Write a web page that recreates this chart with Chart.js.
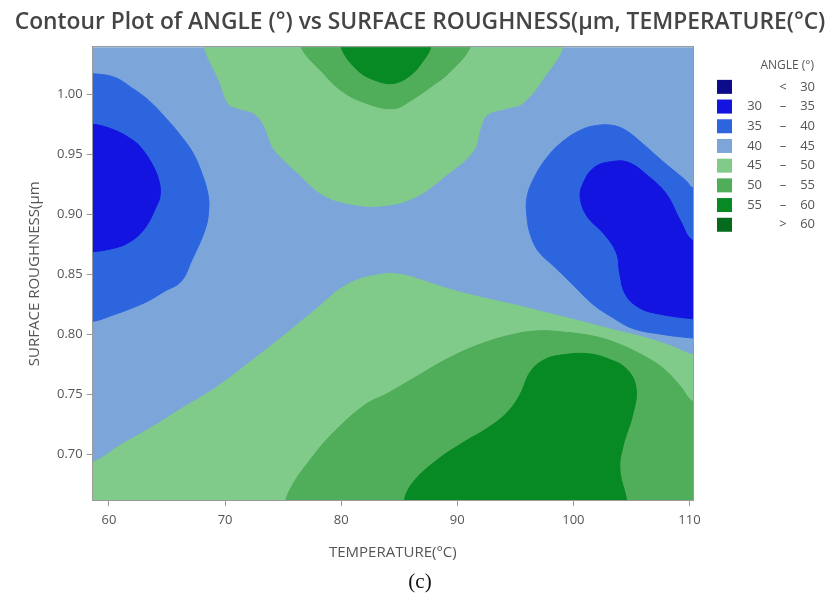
<!DOCTYPE html>
<html>
<head>
<meta charset="utf-8">
<title>Contour Plot of ANGLE vs SURFACE ROUGHNESS, TEMPERATURE</title>
<script src="https://cdn.jsdelivr.net/npm/chart.js@4.4.0/dist/chart.umd.min.js"></script>
<style>
  html, body { margin: 0; padding: 0; background: #fff; }
  #wrap { width: 828px; height: 596px; }
</style>
</head>
<body>
<div id="wrap"><canvas id="chart"></canvas></div>
<script>
// axes
const tempTicks = [60, 70, 80, 90, 100, 110];
const roughTicks = [0.70, 0.75, 0.80, 0.85, 0.90, 0.95, 1.00];
const tempRange = [58.6, 110.3];
const roughRange = [0.662, 1.039];

// contour levels of ANGLE (deg)
const levelLow = ["", "30", "35", "40", "45", "50", "55", ""];
const levelSign = ["<", "–", "–", "–", "–", "–", "–", ">"];
const levelHigh = ["30", "35", "40", "45", "50", "55", "60", "60"];
const levelColors = ["#0c0c8a", "#1414e0", "#2d65df", "#7ca5d9", "#80cb8a", "#50ad5a", "#078924", "#056a1b"];

// contour bands, [temperature, roughness]
const band40to45 = [[55, 0.62], [114, 0.62], [114, 1.07], [55, 1.07]];
const band45top = [[68.1, 1.06], [68.23, 1.039], [69.5, 1.011], [70.3, 0.992], [71.2, 0.988], [72.5, 0.984],
  [73.3, 0.975], [73.8, 0.963], [74.3, 0.953], [76.3, 0.934], [78.3, 0.917], [80.6, 0.909], [83.4, 0.907],
  [86.3, 0.914], [89.1, 0.933], [91.4, 0.953], [92.0, 0.972], [92.6, 0.983], [94.2, 0.988], [95.7, 0.993],
  [97.7, 1.017], [99.1, 1.039], [99.3, 1.06]];
const band50top = [[76.2, 1.06], [76.55, 1.039], [78.4, 1.018], [80.0, 1.003], [82.0, 0.993], [84.5, 0.988],
  [86.2, 0.996], [88.0, 1.008], [89.2, 1.017], [91.1, 1.039], [91.3, 1.06]];
const band55top = [[79.8, 1.06], [80.0, 1.039], [81.3, 1.021], [82.8, 1.012], [84.5, 1.009], [86.0, 1.016],
  [87.0, 1.027], [87.7, 1.039], [87.9, 1.06]];
const band45bottom = [[57, 0.692], [58.7, 0.694], [61.0, 0.708], [63.4, 0.721], [66.2, 0.738], [69.1, 0.755],
  [72.0, 0.776], [74.8, 0.797], [77.7, 0.820], [80.6, 0.842], [83.4, 0.850], [85.1, 0.850], [87.0, 0.845],
  [89.2, 0.838], [92.0, 0.831], [94.8, 0.825], [97.7, 0.818], [100.6, 0.811], [103.4, 0.804], [106.3, 0.797],
  [108.5, 0.790], [110.3, 0.783], [112, 0.781], [112, 0.64], [57, 0.64]];
const band50bottom = [[75.0, 0.64], [75.2, 0.661], [75.95, 0.677], [77.2, 0.694], [79.1, 0.716], [82.0, 0.741],
  [84.0, 0.751], [86.5, 0.765], [89.2, 0.780], [92.0, 0.792], [94.8, 0.800], [97.0, 0.803], [99.1, 0.802],
  [101.5, 0.799], [103.4, 0.794], [105.7, 0.784], [107.7, 0.772], [109.2, 0.757], [110.3, 0.744], [112, 0.74],
  [112, 0.64]];
const band55bottom = [[85.2, 0.64], [85.4, 0.661], [86.2, 0.677], [88.2, 0.695], [90.5, 0.710], [92.6, 0.722],
  [94.3, 0.735], [95.4, 0.750], [96.3, 0.769], [97.5, 0.779], [99.1, 0.783], [101.2, 0.784], [102.9, 0.780],
  [104.6, 0.771], [105.4, 0.755], [105.1, 0.733], [104.3, 0.708], [104.0, 0.688], [104.6, 0.661], [104.8, 0.64]];
const band35left = [[57, 1.018], [58.7, 1.017], [60.5, 1.014], [62.0, 1.005], [63.4, 0.995], [65.0, 0.979],
  [66.3, 0.964], [67.3, 0.950], [68.0, 0.934], [68.5, 0.918], [68.6, 0.905], [68.3, 0.888], [67.1, 0.861],
  [66.2, 0.844], [64.8, 0.836], [63.4, 0.828], [62.0, 0.822], [60.3, 0.816], [58.7, 0.811], [57, 0.81]];
const band30left = [[57, 0.976], [58.7, 0.975], [60.5, 0.970], [62.0, 0.962], [62.8, 0.955], [63.7, 0.942],
  [64.3, 0.928], [64.4, 0.915], [64.0, 0.905], [63.4, 0.893], [62.6, 0.883], [61.6, 0.876], [60.5, 0.872],
  [58.7, 0.869], [57, 0.869]];
const band35right = [[112, 0.922], [110.3, 0.922], [109.7, 0.928], [108.7, 0.936], [107.7, 0.944], [105.7, 0.961],
  [104.5, 0.970], [103.4, 0.974], [102.0, 0.974], [100.6, 0.970], [99.0, 0.960], [97.7, 0.947], [96.6, 0.930],
  [96.0, 0.914], [96.0, 0.898], [96.3, 0.883], [97.0, 0.869], [98.3, 0.857], [100.0, 0.841], [101.7, 0.825],
  [103.4, 0.814], [105.1, 0.805], [107.7, 0.800], [110.3, 0.797], [112, 0.796]];
const band30right = [[112, 0.878], [110.3, 0.878], [109.2, 0.895], [108.0, 0.917], [106.3, 0.933], [104.8, 0.943],
  [103.4, 0.944], [101.8, 0.939], [100.8, 0.925], [100.6, 0.913], [101.2, 0.898], [102.6, 0.884], [103.7, 0.868],
  [104.0, 0.850], [104.5, 0.833], [105.7, 0.822], [107.4, 0.817], [110.3, 0.813], [112, 0.812]];

// painted bottom to top
const bands = [
  { pts: band40to45, color: levelColors[3], tension: 0 },
  { pts: band45top, color: levelColors[4], tension: 0.4 },
  { pts: band50top, color: levelColors[5], tension: 0.4 },
  { pts: band55top, color: levelColors[6], tension: 0.4 },
  { pts: band45bottom, color: levelColors[4], tension: 0.4 },
  { pts: band50bottom, color: levelColors[5], tension: 0.4 },
  { pts: band55bottom, color: levelColors[6], tension: 0.4 },
  { pts: band35left, color: levelColors[2], tension: 0.4 },
  { pts: band30left, color: levelColors[1], tension: 0.4 },
  { pts: band35right, color: levelColors[2], tension: 0.4 },
  { pts: band30right, color: levelColors[1], tension: 0.4 },
];

const FONT = "'Open Sans', 'DejaVu Sans', sans-serif";
const AXIS_GREY = "#9a9a9a";

// thin frame round the plot
const framePlugin = {
  id: "frame",
  afterDatasetsDraw(chart) {
    const { ctx, chartArea: a } = chart;
    ctx.save();
    ctx.strokeStyle = AXIS_GREY;
    ctx.lineWidth = 1;
    ctx.strokeRect(Math.round(a.left) - 0.5, Math.round(a.top) - 0.5,
      Math.round(a.right - a.left) + 1, Math.round(a.bottom - a.top) + 1);
    ctx.restore();
  }
};

// legend with the level ranges, drawn in the space kept by the right pad axis
const levelLegend = {
  id: "levelLegend",
  afterDraw(chart) {
    const { ctx, chartArea: a } = chart;
    const boxX = a.right + 24;
    const firstRow = a.top + 39.5;
    const rowStep = 19.7;
    ctx.save();
    ctx.font = "12px " + FONT;
    ctx.fillStyle = "#555";
    ctx.textBaseline = "middle";
    ctx.textAlign = "right";
    ctx.fillText("ANGLE (°)", boxX + 97, a.top + 18.5);
    ctx.font = "13px " + FONT;
    levelColors.forEach((c, i) => {
      const y = firstRow + i * rowStep;
      ctx.fillStyle = c;
      ctx.fillRect(boxX, y - 7, 15, 14);
      ctx.fillStyle = "#555";
      ctx.textAlign = "right";
      if (levelLow[i]) ctx.fillText(levelLow[i], boxX + 45, y);
      ctx.fillText(levelHigh[i], boxX + 98, y);
      ctx.textAlign = "center";
      ctx.fillText(levelSign[i], boxX + 66, y);
    });
    ctx.restore();
  }
};

new Chart(document.getElementById("chart"), {
  type: "scatter",
  data: {
    datasets: bands.map((b, i) => ({
      data: b.pts.map(([x, y]) => ({ x, y })),
      showLine: true,
      fill: "shape",
      backgroundColor: b.color,
      borderColor: b.color,
      borderWidth: 1,
      pointRadius: 0,
      tension: b.tension,
      order: bands.length - i,
    })),
  },
  options: {
    responsive: true,
    maintainAspectRatio: false,
    animation: false,
    events: [],
    layout: { padding: { left: 12, top: 0, right: 0, bottom: 0 } },
    plugins: {
      legend: { display: false },
      tooltip: { enabled: false },
      title: {
        display: true,
        text: "Contour Plot of ANGLE (°) vs SURFACE ROUGHNESS(μm, TEMPERATURE(°C)",
        color: "#454545",
        font: { family: FONT, size: 22.8, weight: 600 },
        padding: { top: 9, bottom: 11 },
      },
      subtitle: {
        display: true,
        position: "bottom",
        text: "(c)",
        color: "#111",
        font: { family: "'Liberation Serif', 'DejaVu Serif', serif", size: 21, weight: "normal" },
        padding: { top: 8, bottom: 1 },
      },
    },
    scales: {
      x: {
        type: "linear",
        min: tempRange[0],
        max: tempRange[1],
        afterBuildTicks: axis => { axis.ticks = tempTicks.map(v => ({ value: v })); },
        grid: { display: true, drawOnChartArea: false, drawTicks: true, tickLength: 6, color: AXIS_GREY },
        border: { display: true, color: AXIS_GREY },
        ticks: { color: "#555", font: { family: FONT, size: 13 }, padding: 6, maxRotation: 0 },
        title: {
          display: true,
          text: "TEMPERATURE(°C)",
          color: "#555",
          font: { family: FONT, size: 15 },
          padding: { top: 10, bottom: 0 },
        },
      },
      y: {
        type: "linear",
        min: roughRange[0],
        max: roughRange[1],
        afterBuildTicks: axis => { axis.ticks = roughTicks.map(v => ({ value: v })); },
        grid: { display: true, drawOnChartArea: false, drawTicks: true, tickLength: 6, color: AXIS_GREY },
        border: { display: true, color: AXIS_GREY },
        ticks: { color: "#555", font: { family: FONT, size: 13 }, padding: 4, callback: v => v.toFixed(2) },
        title: {
          display: true,
          text: "SURFACE ROUGHNESS(μm",
          color: "#555",
          font: { family: FONT, size: 15 },
          padding: { top: 14, bottom: 9 },
        },
      },
      pad: {
        type: "linear",
        position: "right",
        display: true,
        grid: { display: false },
        border: { display: false },
        ticks: { display: false },
        afterFit: axis => { axis.width = 135; },
      },
    },
  },
  plugins: [framePlugin, levelLegend],
});
</script>
</body>
</html>
